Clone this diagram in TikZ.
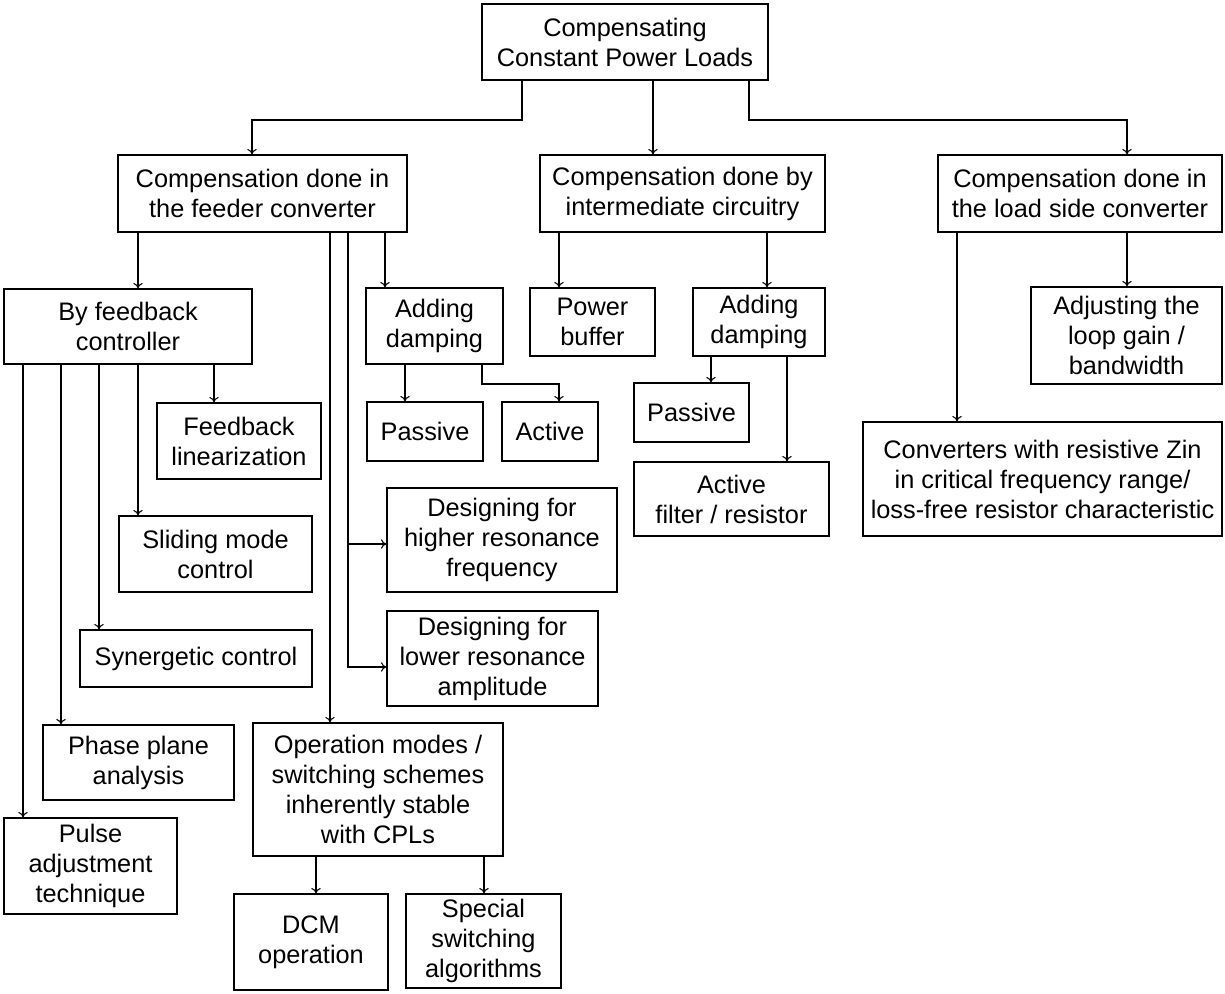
\documentclass[tikz,border=0pt]{standalone}
\usepackage{fontspec}
\setmainfont{Liberation Sans}
\usetikzlibrary{arrows.meta,positioning}

\begin{document}
\begin{tikzpicture}[x=0.75pt,y=0.75pt,yscale=-1,xscale=1]
  \tikzstyle{box} = [draw,line width=1pt,inner sep=0pt,align=center,font=\fontsize{19}{22.5}\selectfont]
  \tikzstyle{arrow} = [line width=0.8pt,->,>={To[length=4pt,width=7pt]}]
  \useasboundingbox (0,0) rectangle (1225,994);
  %Draw the top box
  \node[box,minimum width=214.5pt,minimum height=57pt] (root) at (625,42) {Compensating\\Constant Power Loads};
  %Draw the three main branches
  \node[box,minimum width=216.75pt,minimum height=57.75pt] (feeder) at (262.5,193.5) {Compensation done in\\the feeder converter};
  \node[box,minimum width=213.75pt,minimum height=57.75pt] (inter) at (682.5,193.5) {Compensation done by\\intermediate circuitry};
  \node[box,minimum width=213pt,minimum height=57.75pt] (load) at (1080,193.5) {Compensation done in\\the load side converter};
  %Feeder side boxes
  \node[box,minimum width=186pt,minimum height=56.25pt] (fbc) at (128,326.5) {By feedback\\controller};
  \node[box,minimum width=102.75pt,minimum height=57pt] (damp1) at (434.5,326) {Adding\\damping};
  \node[box,minimum width=123pt,minimum height=57pt] (fblin) at (239,441) {Feedback\\linearization};
  \node[box,minimum width=87pt,minimum height=44.25pt] (passive1) at (425,431.5) {Passive};
  \node[box,minimum width=72pt,minimum height=44.25pt] (active1) at (550,431.5) {Active};
  \node[box,minimum width=144.75pt,minimum height=57pt] (sliding) at (215.5,554) {Sliding mode\\control};
  \node[box,minimum width=172.5pt,minimum height=78pt] (higher) at (502,540) {Designing for\\higher resonance\\frequency};
  \node[box,minimum width=174pt,minimum height=42.75pt] (synerg) at (196,658.5) {Synergetic control};
  \node[box,minimum width=158.25pt,minimum height=71.25pt] (lower) at (492.5,658.5) {Designing for\\lower resonance\\amplitude};
  \node[box,minimum width=143.25pt,minimum height=56.25pt] (phase) at (138.5,762.5) {Phase plane\\analysis};
  \node[box,minimum width=187.5pt,minimum height=99.75pt] (opmodes) at (378,789.5) {Operation modes /\\switching schemes\\inherently stable\\with CPLs};
  \node[box,minimum width=129.75pt,minimum height=72pt] (pulse) at (90.5,866) {Pulse\\adjustment\\technique};
  \node[box,minimum width=115.5pt,minimum height=72pt] (dcm) at (311,942) {DCM\\operation};
  \node[box,minimum width=116.25pt,minimum height=70.5pt] (special) at (483.5,941) {Special\\switching\\algorithms};
  %Intermediate circuitry boxes
  \node[box,minimum width=93.75pt,minimum height=51pt] (buffer) at (592.5,322) {Power\\buffer};
  \node[box,minimum width=99pt,minimum height=51pt] (damp2) at (759,322) {Adding\\damping};
  \node[box,minimum width=86.25pt,minimum height=44.25pt] (passive2) at (691.5,412.5) {Passive};
  \node[box,minimum width=146.25pt,minimum height=55.5pt] (activef) at (731.5,499) {Active\\filter / resistor};
  %Load side boxes
  \node[box,minimum width=143.25pt,minimum height=72.75pt] (adjust) at (1126.5,335.5) {Adjusting the\\loop gain /\\bandwidth};
  \node[box,minimum width=269.25pt,minimum height=85.5pt] (conv) at (1042.5,479) {Converters with resistive Zin\\in critical frequency range/\\loss-free resistor characteristic};

  %Top connectors
  \draw[arrow] (522,0 |- root.south) |- (252,120) -- (252,0 |- feeder.north);
  \draw[arrow] (653,0 |- root.south) -- (653,0 |- inter.north);
  \draw[arrow] (749,0 |- root.south) |- (1127,120) -- (1127,0 |- load.north);
  %Feeder connectors
  \draw[arrow] (138,0 |- feeder.south) -- (138,0 |- fbc.north);
  \draw[arrow] (330,0 |- feeder.south) -- (330,0 |- opmodes.north);
  \draw[arrow] (348,0 |- feeder.south) |- (higher.west |- 0,544);
  \draw[arrow] (348,0 |- feeder.south) |- (lower.west |- 0,667);
  \draw[arrow] (385,0 |- feeder.south) -- (385,0 |- damp1.north);
  %Feedback controller connectors
  \draw[arrow] (214,0 |- fbc.south) -- (214,0 |- fblin.north);
  \draw[arrow] (138,0 |- fbc.south) -- (138,0 |- sliding.north);
  \draw[arrow] (99,0 |- fbc.south) -- (99,0 |- synerg.north);
  \draw[arrow] (61,0 |- fbc.south) -- (61,0 |- phase.north);
  \draw[arrow] (23,0 |- fbc.south) -- (23,0 |- pulse.north);
  %Damping connectors
  \draw[arrow] (405,0 |- damp1.south) -- (405,0 |- passive1.north);
  \draw[arrow] (482,0 |- damp1.south) |- (559,384) -- (559,0 |- active1.north);
  \draw[arrow] (316,0 |- opmodes.south) -- (316,0 |- dcm.north);
  \draw[arrow] (484,0 |- opmodes.south) -- (484,0 |- special.north);
  %Intermediate connectors
  \draw[arrow] (559,0 |- inter.south) -- (559,0 |- buffer.north);
  \draw[arrow] (767,0 |- inter.south) -- (767,0 |- damp2.north);
  \draw[arrow] (711,0 |- damp2.south) -- (711,0 |- passive2.north);
  \draw[arrow] (787,0 |- damp2.south) -- (787,0 |- activef.north);
  %Load side connectors
  \draw[arrow] (957,0 |- load.south) -- (957,0 |- conv.north);
  \draw[arrow] (1127,0 |- load.south) -- (1127,0 |- adjust.north);
\end{tikzpicture}
\end{document}
